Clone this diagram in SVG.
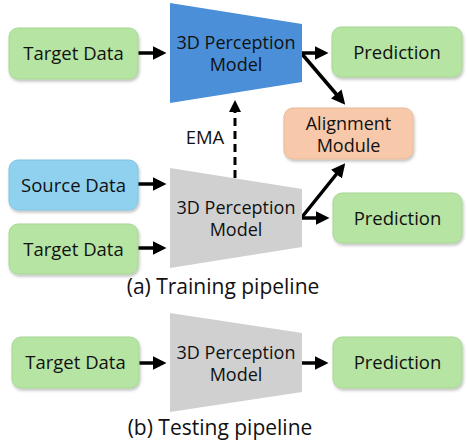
<svg xmlns="http://www.w3.org/2000/svg" width="467" height="445" viewBox="0 0 467 445">
<style>
.lbl{font-family:"Open Sans","Noto Sans",sans-serif;font-size:18.5px;fill:#111;text-anchor:middle}
.ml{font-family:"Open Sans","Noto Sans",sans-serif;font-size:18px;fill:#111;text-anchor:middle}
.cap{font-family:"Open Sans","Noto Sans",sans-serif;font-size:21px;fill:#111;text-anchor:middle}
.green{fill:#b6e4a2;stroke:#a6d792;stroke-width:1}
.src{fill:#8fd1ee;stroke:#7fc3e2;stroke-width:1}
.peach{fill:#f7c8aa;stroke:#e8b898;stroke-width:1}
.blue{fill:#4a8fd8}
.gray{fill:#d0d0d0}
.con{stroke:#000;stroke-width:3.5;fill:none}
</style>
<defs>
<marker id="ah" markerWidth="4" markerHeight="4" refX="3" refY="2" orient="auto" markerUnits="strokeWidth">
<path d="M0,0 L4,2 L0,4 z" fill="#000"/>
</marker>
<filter id="sh" x="-10%" y="-10%" width="130%" height="140%">
<feDropShadow dx="1" dy="2" stdDeviation="1.5" flood-color="#000" flood-opacity="0.25"/>
</filter>
</defs>
<g id="connectors">
<line class="con" x1="138" y1="53" x2="163" y2="53" marker-end="url(#ah)"/>
<line class="con" x1="302" y1="53" x2="325" y2="53" marker-end="url(#ah)"/>
<line class="con" x1="302" y1="54" x2="343" y2="102" marker-end="url(#ah)"/>
<line x1="235" y1="178" x2="235" y2="103" stroke="#000" stroke-width="3" stroke-dasharray="8,5" marker-end="url(#ah)"/>
<line class="con" x1="138" y1="184" x2="163" y2="184" marker-end="url(#ah)"/>
<line class="con" x1="138" y1="248" x2="163" y2="248" marker-end="url(#ah)"/>
<line class="con" x1="302" y1="218" x2="326" y2="218" marker-end="url(#ah)"/>
<line class="con" x1="302" y1="217" x2="343" y2="166" marker-end="url(#ah)"/>
<line class="con" x1="139" y1="363" x2="163" y2="363" marker-end="url(#ah)"/>
<line class="con" x1="302" y1="363" x2="325" y2="363" marker-end="url(#ah)"/>
</g>
<g id="target1">
<rect class="green" x="9" y="28" width="129" height="51" rx="9" filter="url(#sh)"/>
<text class="lbl" x="73.5" y="60">Target Data</text>
</g>
<g id="teacher">
<polygon class="blue" points="170,3 302,24 302,82 170,103"/>
<text class="ml" x="236" y="49">3D Perception</text>
<text class="ml" x="236" y="71">Model</text>
</g>
<g id="pred1">
<rect class="green" x="332" y="27" width="130" height="50" rx="9" filter="url(#sh)"/>
<text class="lbl" x="397" y="58.5">Prediction</text>
</g>
<g id="align">
<rect class="peach" x="284" y="108" width="129" height="51" rx="9" filter="url(#sh)"/>
<text class="ml" x="348.5" y="130">Alignment</text>
<text class="ml" x="348.5" y="152">Module</text>
</g>
<g id="ema">
<text class="lbl" x="205" y="144">EMA</text>
</g>
<g id="source">
<rect class="src" x="9" y="160" width="129" height="50" rx="9" filter="url(#sh)"/>
<text class="lbl" x="73.5" y="191.5">Source Data</text>
</g>
<g id="target2">
<rect class="green" x="9" y="224" width="129" height="50" rx="9" filter="url(#sh)"/>
<text class="lbl" x="73.5" y="255.5">Target Data</text>
</g>
<g id="student">
<polygon class="gray" points="170,168 302,189 302,247 170,268"/>
<text class="ml" x="236" y="214">3D Perception</text>
<text class="ml" x="236" y="236">Model</text>
</g>
<g id="pred2">
<rect class="green" x="333" y="193" width="129" height="50" rx="9" filter="url(#sh)"/>
<text class="lbl" x="397.5" y="224.5">Prediction</text>
</g>
<g id="capA">
<text class="cap" x="223" y="294">(a) Training pipeline</text>
</g>
<g id="target3">
<rect class="green" x="12" y="337" width="127" height="51" rx="9" filter="url(#sh)"/>
<text class="lbl" x="75.5" y="369">Target Data</text>
</g>
<g id="model3">
<polygon class="gray" points="170,313 302,333 302,392 170,412"/>
<text class="ml" x="236" y="359">3D Perception</text>
<text class="ml" x="236" y="381">Model</text>
</g>
<g id="pred3">
<rect class="green" x="333" y="337" width="129" height="51" rx="9" filter="url(#sh)"/>
<text class="lbl" x="397.5" y="369">Prediction</text>
</g>
<g id="capB">
<text class="cap" x="220" y="435">(b) Testing pipeline</text>
</g>
</svg>
